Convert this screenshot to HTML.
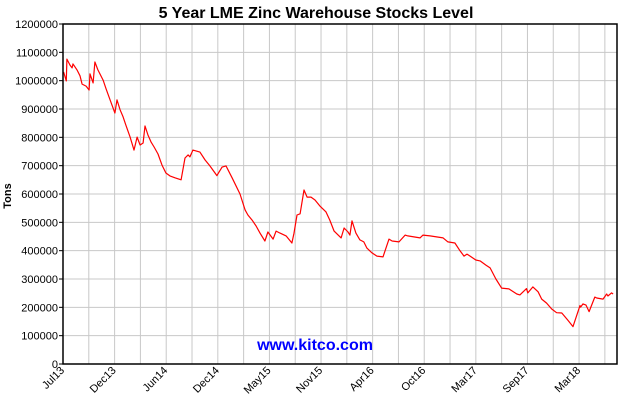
<!DOCTYPE html>
<html><head><meta charset="utf-8"><style>
body{margin:0;background:#fff}
svg text{font-family:"Liberation Sans",Arial,sans-serif}
</style></head><body>
<svg id="chart" width="630" height="400" viewBox="0 0 630 400" xmlns="http://www.w3.org/2000/svg">
<rect x="0" y="0" width="630" height="400" fill="#fff"/>
<text x="316" y="18" text-anchor="middle" font-size="16" font-weight="bold" fill="#000">5 Year LME Zinc Warehouse Stocks Level</text>
<text transform="translate(11,196) rotate(-90)" text-anchor="middle" font-size="11" font-weight="bold" fill="#000">Tons</text>
<g id="grid"></g>
<text x="315" y="350" text-anchor="middle" font-size="16" font-weight="bold" fill="#0000ff">www.kitco.com</text>
<g id="series"></g>
<g id="axes"></g>
</svg>
<script>
const xTickLabels = ["Jul13","Dec13","Jun14","Dec14","May15","Nov15","Apr16","Oct16","Mar17","Sep17","Mar18"];
const yTickValues = [0,100000,200000,300000,400000,500000,600000,700000,800000,900000,1000000,1100000,1200000];
const days = [2,11,13,23,30,33,46,56,63,76,86,89,99,105,115,132,142,155,171,178,188,198,207,221,234,244,254,264,270,280,290,300,313,326,339,352,369,389,402,412,418,428,451,468,484,507,524,537,557,583,600,609,623,636,649,665,675,692,702,715,735,754,761,771,781,794,804,817,830,846,866,879,893,916,926,939,945,952,965,978,991,1001,1018,1034,1054,1074,1084,1107,1127,1136,1176,1186,1209,1252,1268,1291,1308,1321,1331,1341,1360,1374,1393,1407,1426,1445,1469,1495,1505,1527,1531,1548,1565,1577,1593,1610,1626,1643,1663,1680,1703,1705,1713,1723,1733,1752,1758,1779,1791,1795,1807,1812,1825];
const stocks = [1031000,999000,1076000,1055000,1045000,1059000,1038000,1017000,988000,981000,967000,1024000,992000,1066000,1038000,1002000,971000,932000,886000,932000,897000,872000,844000,801000,755000,801000,773000,780000,840000,808000,784000,766000,741000,702000,674000,664000,657000,650000,727000,738000,731000,755000,748000,720000,699000,665000,695000,699000,657000,600000,544000,526000,508000,487000,462000,434000,466000,441000,469000,462000,452000,427000,462000,526000,530000,614000,589000,589000,579000,558000,537000,508000,469000,445000,480000,466000,455000,505000,462000,438000,431000,409000,392000,381000,378000,441000,434000,431000,455000,452000,445000,455000,452000,445000,431000,427000,399000,381000,388000,381000,367000,364000,349000,339000,300000,268000,265000,247000,244000,266000,251000,272000,255000,229000,215000,194000,181000,180000,155000,132000,206000,201000,212000,208000,185000,236000,233000,229000,247000,240000,251000,247000];

const L=63,R=617,T=24,B=364, X_MAX=1825, Y_MAX=1200000, LABEL_STEP=170, GRID_STEP=85;
const xs = d => L + d/X_MAX*(R-L);
const ys = v => B - v/Y_MAX*(B-T);
const NS="http://www.w3.org/2000/svg";
function mk(tag, attrs, parent){const e=document.createElementNS(NS,tag);for(const k in attrs)e.setAttribute(k,attrs[k]);parent.appendChild(e);return e;}
const grid=document.getElementById('grid'), axes=document.getElementById('axes'), series=document.getElementById('series');

for(let d=GRID_STEP; d<X_MAX; d+=GRID_STEP){
  const g=mk('line',{x1:xs(d),x2:xs(d),y1:T,y2:B,stroke:'#c8c8c8','stroke-width':1},grid);
  
  
}
yTickValues.forEach(v=>{
  if(v>0&&v<Y_MAX){
    const g=mk('line',{x1:L,x2:R,y1:ys(v),y2:ys(v),stroke:'#c8c8c8','stroke-width':1},grid);
    
    
  }
  const t=mk('line',{x1:L-4,x2:L,y1:ys(v),y2:ys(v),stroke:'#000','stroke-width':1},axes);
  
  
  const lb=mk('text',{x:L-5,y:ys(v)+4,'text-anchor':'end','font-size':11,fill:'#000'},axes);
  lb.textContent=String(v);
  
  
});
xTickLabels.forEach((s,i)=>{
  const x=xs(i*LABEL_STEP);
  const lb=mk('text',{transform:`translate(${x+2},${B+7}) rotate(-45)`,'text-anchor':'end','font-size':11,fill:'#000'},axes);
  lb.textContent=s;
  
  
});
const frame=mk('rect',{x:L,y:T,width:R-L,height:B-T,fill:'none',stroke:'#000','stroke-width':1.5},axes);


const pts=days.map((d,i)=>xs(d).toFixed(1)+','+ys(stocks[i]).toFixed(1)).join(' ');
const line=mk('polyline',{points:pts,fill:'none',stroke:'#ff0000','stroke-width':1.2,'stroke-linejoin':'round'},series);


</script>
</body></html>
